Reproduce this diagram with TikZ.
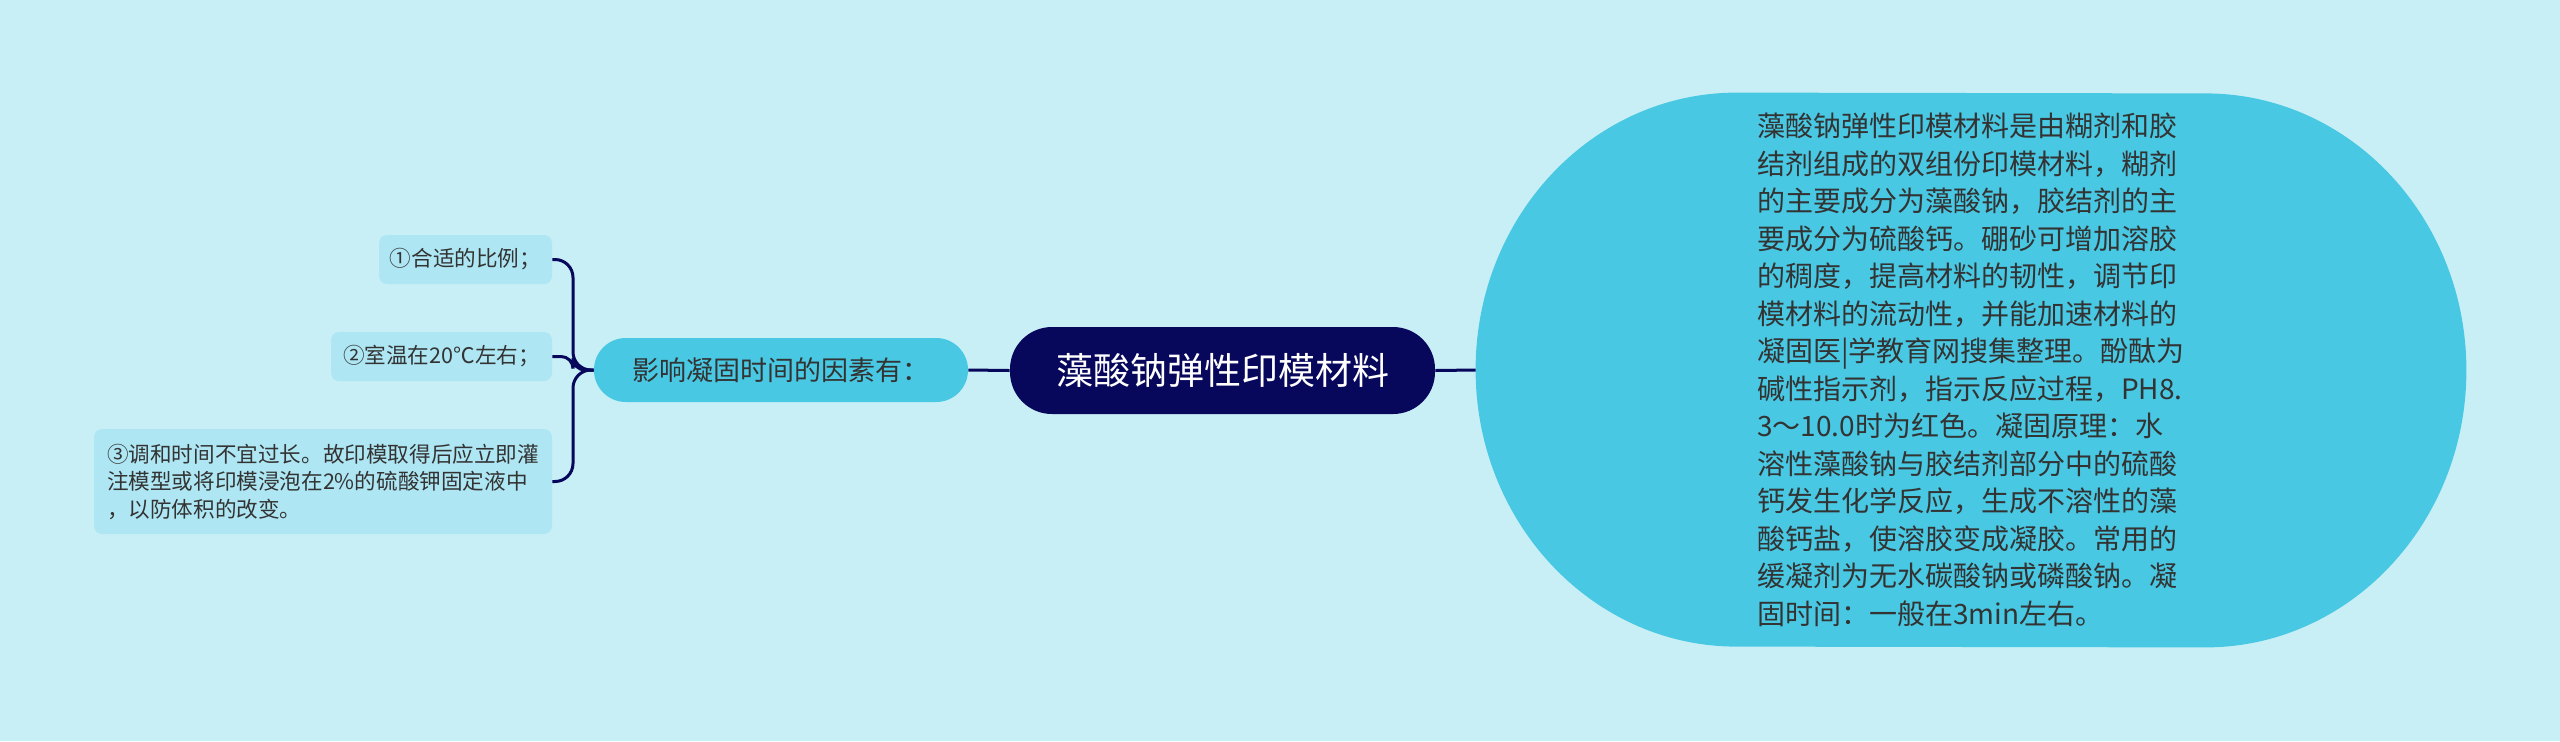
\documentclass[tikz,border=0pt]{standalone}
\usepackage{fontspec}
\setmainfont{Noto Sans CJK SC}
\usetikzlibrary{backgrounds}
\definecolor{bgc}{HTML}{C9EFF6}
\definecolor{midc}{HTML}{48C8E3}
\definecolor{leafc}{HTML}{AEE7F3}
\definecolor{rootc}{HTML}{07075C}
\definecolor{txtc}{HTML}{333333}
\tikzset{
  conn/.style={draw=rootc, line width=1.5pt},
  rootbox/.style={fill=rootc, text=white, rounded corners=21pt, inner sep=0pt,
    minimum width=212.5pt, minimum height=43.5pt, font=\fontsize{18.5pt}{22pt}\selectfont},
  branchbox/.style={fill=midc, text=txtc, rounded corners=15.9pt, inner sep=0pt,
    minimum width=187pt, minimum height=32pt, font=\fontsize{13.5pt}{16pt}\selectfont},
  detailbox/.style={text=txtc, inner sep=0pt,
    minimum width=495pt, minimum height=277pt, align=left,
    font=\fontsize{14pt}{18.75pt}\selectfont},
  leafbox/.style={fill=leafc, text=txtc, rounded corners=4pt, inner sep=0pt,
    minimum height=24.5pt, align=left, font=\fontsize{10.8pt}{13.75pt}\selectfont},
}
\begin{document}
\begin{tikzpicture}[x=0.5pt,y=-0.5pt]
\begin{pgfonlayer}{background}
\fill[bgc] (0,0) rectangle (2560,741);
\end{pgfonlayer}
\useasboundingbox (0,0) rectangle (2560,741);
\node[rootbox] (root) at (1222.5,370.5) {藻酸钠弹性印模材料};
\node[branchbox] (branch) at (781,370) {影响凝固时间的因素有：};
\node[detailbox] (detail) at (1971,370) {藻酸钠弹性印模材料是由糊剂和胶\\
结剂组成的双组份印模材料，糊剂\\
的主要成分为藻酸钠，胶结剂的主\\
要成分为硫酸钙。硼砂可增加溶胶\\
的稠度，提高材料的韧性，调节印\\
模材料的流动性，并能加速材料的\\
凝固医|学教育网搜集整理。酚酞为\\
碱性指示剂，指示反应过程，PH8.\\
3～10.0时为红色。凝固原理：水\\
溶性藻酸钠与胶结剂部分中的硫酸\\
钙发生化学反应，生成不溶性的藻\\
酸钙盐，使溶胶变成凝胶。常用的\\
缓凝剂为无水碳酸钠或磷酸钠。凝\\
固时间：一般在3min左右。};
\begin{pgfonlayer}{background}
\fill[midc] ([xshift=130.5pt]detail.north west)
  arc[start angle=90, end angle=270, x radius=130.5pt, y radius=138.5pt]
  -- ([xshift=-130.5pt]detail.south east)
  arc[start angle=-90, end angle=90, x radius=130.5pt, y radius=138.5pt]
  -- cycle;
\end{pgfonlayer}
\node[leafbox, minimum width=86.5pt] (l1) at (465.5,259.5) {①合适的比例；};
\node[leafbox, minimum width=110.5pt] (l2) at (441.5,356.5) {②室温在20℃左右；};
\node[leafbox, minimum width=229pt, minimum height=52.5pt] (l3) at (323,481.5) {③调和时间不宜过长。故印模取得后应立即灌\\
注模型或将印模浸泡在2\%的硫酸钾固定液中\\
，以防体积的改变。};
\coordinate (bj) at (573,370);
\draw[conn] (branch.east) -- (root.west);
\draw[conn] (root.east) -- (detail.west);
\draw[conn, rounded corners=9pt] (branch.west) -- (bj) |- (l1.east);
\draw[conn, rounded corners=6pt] (branch.west) -- (bj) |- (l2.east);
\draw[conn, rounded corners=9pt] (branch.west) -- (bj) |- (l3.east);
\end{tikzpicture}
\end{document}
